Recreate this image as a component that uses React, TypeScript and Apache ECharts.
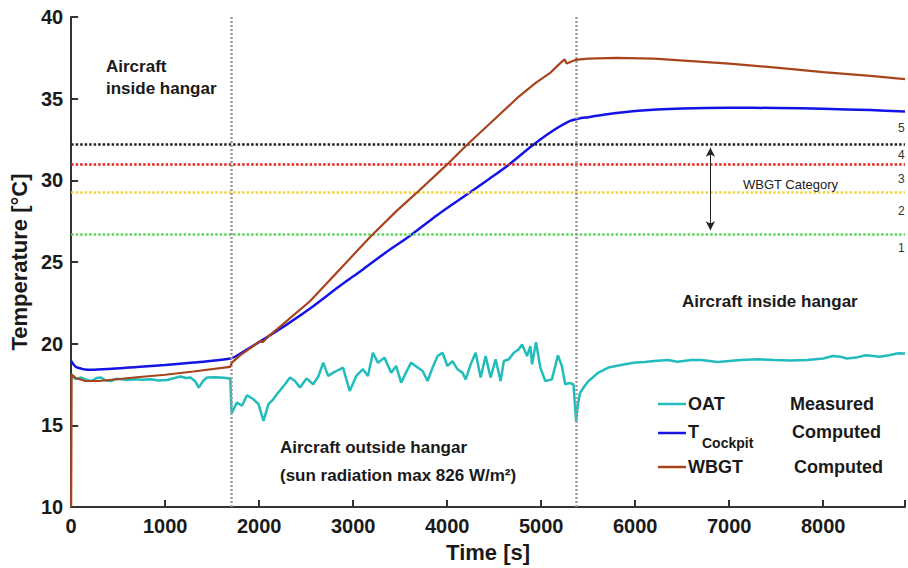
import React, { useEffect, useRef } from "react";
import * as echarts from "echarts";

// ---- Data ----
const oatTime = [0, 50, 106, 160, 212, 270, 317, 370, 423, 480, 529, 600, 670, 760, 847, 930, 1023, 1100, 1164, 1220, 1270, 1320, 1358, 1400, 1446, 1520, 1587, 1650, 1693, 1705, 1711, 1764, 1817, 1870, 1940, 1993, 2046, 2099, 2150, 2187, 2230, 2275, 2328, 2381, 2434, 2504, 2575, 2630, 2681, 2734, 2780, 2822, 2892, 2963, 3033, 3104, 3157, 3210, 3263, 3333, 3404, 3457, 3510, 3562, 3616, 3686, 3739, 3792, 3845, 3898, 3950, 4003, 4056, 4109, 4162, 4197, 4250, 4303, 4356, 4409, 4462, 4515, 4568, 4603, 4656, 4709, 4762, 4797, 4850, 4885, 4903, 4945, 4991, 5044, 5114, 5178, 5220, 5255, 5300, 5343, 5372, 5390, 5414, 5460, 5502, 5600, 5714, 5890, 6000, 6102, 6200, 6349, 6450, 6596, 6700, 6878, 7000, 7125, 7300, 7478, 7650, 7830, 8000, 8100, 8183, 8250, 8350, 8450, 8536, 8600, 8700, 8800, 8870];
const oatTemp = [18.0, 17.85, 17.93, 17.8, 17.72, 17.9, 17.93, 17.75, 17.72, 17.85, 17.82, 17.78, 17.82, 17.8, 17.82, 17.75, 17.78, 17.9, 17.99, 17.9, 17.93, 17.7, 17.31, 17.7, 17.93, 17.95, 17.93, 17.9, 17.86, 15.9, 15.79, 16.4, 16.2, 16.85, 16.6, 16.3, 15.28, 16.3, 16.6, 16.9, 17.2, 17.52, 17.93, 17.72, 17.32, 17.87, 17.52, 18.0, 18.84, 18.03, 18.2, 18.33, 18.54, 17.11, 18.03, 18.44, 18.03, 19.45, 18.84, 19.15, 18.23, 18.64, 17.62, 18.23, 18.84, 18.54, 18.33, 17.72, 18.54, 19.25, 19.45, 18.64, 18.94, 18.44, 18.23, 17.82, 18.74, 19.45, 17.93, 19.25, 17.93, 19.05, 17.72, 18.94, 19.05, 19.45, 19.66, 19.96, 19.25, 19.86, 18.74, 20.1, 18.54, 17.72, 17.82, 19.29, 18.64, 17.52, 17.6, 17.52, 15.28, 16.3, 17.0, 17.4, 17.7, 18.2, 18.54, 18.74, 18.85, 18.88, 18.95, 19.0, 18.9, 19.0, 19.0, 18.88, 18.95, 19.0, 19.05, 19.0, 18.98, 19.0, 19.1, 19.25, 19.2, 19.1, 19.15, 19.3, 19.25, 19.2, 19.3, 19.42, 19.4];

const cockpitTime = [0, 30, 60, 106, 150, 212, 400, 700, 1000, 1300, 1693, 1800, 2046, 2300, 2575, 2850, 3104, 3350, 3598, 3900, 4233, 4450, 4656, 4903, 5100, 5291, 5400, 5503, 5700, 6000, 6500, 7000, 7500, 8000, 8500, 8870];
const cockpitTemp = [18.94, 18.7, 18.55, 18.48, 18.42, 18.4, 18.45, 18.58, 18.7, 18.85, 19.09, 19.4, 20.27, 21.2, 22.3, 23.5, 24.55, 25.6, 26.58, 27.9, 29.23, 30.1, 30.96, 32.12, 32.95, 33.6, 33.78, 33.87, 34.05, 34.25, 34.4, 34.45, 34.43, 34.38, 34.3, 34.22];

const wbgtTime = [0, 5, 50, 150, 300, 700, 1000, 1300, 1690, 1710, 1800, 2010, 2040, 2100, 2540, 2857, 3175, 3457, 3668, 3986, 4198, 4317, 4515, 4762, 4938, 5100, 5220, 5250, 5270, 5362, 5500, 5800, 6200, 6600, 7000, 7500, 8000, 8500, 8870];
const wbgtTemp = [10.0, 18.13, 17.9, 17.72, 17.72, 17.95, 18.1, 18.3, 18.58, 18.84, 19.3, 20.16, 20.1, 20.45, 22.6, 24.55, 26.5, 28.1, 29.2, 30.9, 32.1, 32.75, 33.8, 35.13, 35.95, 36.6, 37.27, 37.4, 37.15, 37.37, 37.45, 37.5, 37.45, 37.3, 37.15, 36.9, 36.62, 36.4, 36.2];

const categoryThresholds = [26.7, 29.3, 31.0, 32.2];
const categoryColors = ["#5cd65c", "#f2d43a", "#e8231e", "#222222"];
const categoryLabels = ["5", "4", "3", "2", "1"];
const phaseBoundaries = [1700, 5370];
const xTicks = { min: 0, max: 8870, interval: 1000 };
const yTicks = { min: 10, max: 40, interval: 5 };

const zip = (a: number[], b: number[]) => a.map((t, i) => [t, b[i]]);

const FONT = "Arial, 'Liberation Sans', sans-serif";

export default function App() {
  const ref = useRef<HTMLDivElement>(null);
  useEffect(() => {
    if (!ref.current) return;
    const chart = echarts.init(ref.current, undefined, { renderer: "svg" });
    const bold = (size: number) => ({ fontFamily: FONT, fontWeight: "bold" as const, fontSize: size, fill: "#1a1a1a" });
    const txt = (text: string, x: number, y: number, size = 17, extra: any = {}) => ({
      type: "text",
      x,
      y,
      style: { text, ...bold(size), verticalAlign: "middle", ...extra },
      z: 100,
    });
    const legLine = (y: number, color: string) => ({
      type: "line",
      shape: { x1: 658, y1: y, x2: 686, y2: y },
      style: { stroke: color, lineWidth: 2.5 },
      z: 100,
    });
    chart.setOption({
      animation: false,
      backgroundColor: "#ffffff",
      grid: { left: 70, top: 17, width: 838, height: 492, containLabel: false },
      xAxis: {
        type: "value",
        min: xTicks.min,
        max: xTicks.max,
        interval: xTicks.interval,
        name: "Time [s]",
        nameLocation: "middle",
        nameGap: 33,
        nameTextStyle: { fontFamily: FONT, fontWeight: "bold", fontSize: 22, color: "#1a1a1a" },
        axisLine: { lineStyle: { color: "#333", width: 2 } },
        axisTick: { inside: true, length: 7, lineStyle: { color: "#333", width: 2 } },
        axisLabel: {
          fontFamily: FONT,
          fontWeight: "bold",
          fontSize: 20,
          color: "#1a1a1a",
          margin: 9,
          formatter: (v: number) => (v % 1000 === 0 ? String(v) : ""),
        },
        splitLine: { show: false },
      },
      yAxis: {
        type: "value",
        min: yTicks.min,
        max: yTicks.max,
        interval: yTicks.interval,
        name: "Temperature [°C]",
        nameLocation: "middle",
        nameGap: 36,
        nameTextStyle: { fontFamily: FONT, fontWeight: "bold", fontSize: 22, color: "#1a1a1a" },
        axisLine: { lineStyle: { color: "#333", width: 2 } },
        axisTick: { inside: true, length: 7, lineStyle: { color: "#333", width: 2 } },
        axisLabel: { fontFamily: FONT, fontWeight: "bold", fontSize: 20, color: "#1a1a1a", margin: 8 },
        splitLine: { show: false },
      },
      series: [
        {
          name: "guides",
          type: "line",
          data: [],
          silent: true,
          markLine: {
            silent: true,
            symbol: "none",
            label: { show: false },
            data: [
              ...categoryThresholds.map((v, i) => ({
                yAxis: v,
                lineStyle: { color: categoryColors[i], type: [2.5, 2], width: 2.5 },
              })),
              ...phaseBoundaries.map((v) => ({
                xAxis: v,
                lineStyle: { color: "#9a9a9a", type: [2, 2], width: 2.5 },
              })),
            ],
          },
        },
        {
          name: "arrow",
          type: "line",
          data: [],
          silent: true,
          markLine: {
            silent: true,
            symbol: ["arrow", "arrow"],
            symbolSize: [7, 9],
            label: { show: false },
            lineStyle: { color: "#222", type: "solid", width: 1 },
            data: [[{ coord: [6800, 32.0] }, { coord: [6800, 26.95] }]],
          },
        },
        {
          name: "OAT",
          type: "line",
          data: zip(oatTime, oatTemp),
          showSymbol: false,
          lineStyle: { color: "#22bcbc", width: 2.5 },
          z: 3,
        },
        {
          name: "TCockpit",
          type: "line",
          data: zip(cockpitTime, cockpitTemp),
          showSymbol: false,
          smooth: 0.3,
          lineStyle: { color: "#1414e6", width: 2.5 },
          z: 4,
        },
        {
          name: "WBGT",
          type: "line",
          data: zip(wbgtTime, wbgtTemp),
          showSymbol: false,
          lineStyle: { color: "#a8441c", width: 2.2 },
          z: 5,
        },
      ],
      graphic: [
        txt("Aircraft", 106, 66),
        txt("inside hangar", 106, 88),
        txt("Aircraft inside hangar", 682, 301),
        txt("Aircraft outside hangar", 280, 447),
        txt("(sun radiation max 826 W/m²)", 280, 475),
        {
          type: "text",
          x: 743,
          y: 184,
          style: { text: "WBGT Category", fontFamily: FONT, fontSize: 13, fill: "#222", verticalAlign: "middle" },
          z: 100,
        },
        ...categoryLabels.map((s, i) => ({
          type: "text",
          x: 898,
          y: [128, 155, 179, 211, 248][i],
          style: { text: s, fontFamily: FONT, fontSize: 12, fill: "#333", verticalAlign: "middle" },
          z: 100,
        })),
        legLine(404, "#22bcbc"),
        legLine(433, "#1414e6"),
        legLine(467, "#a8441c"),
        txt("OAT", 688, 404, 18),
        txt("Measured", 790, 404, 18),
        txt("T", 688, 432, 18),
        txt("Cockpit", 702, 443, 14),
        txt("Computed", 792, 432, 18),
        txt("WBGT", 688, 467, 18),
        txt("Computed", 794, 467, 18),
      ],
    });
    return () => chart.dispose();
  }, []);
  return (
    <div
      ref={ref}
      style={{ position: "fixed", left: 0, top: 0, width: 908, height: 568, background: "#fff" }}
    />
  );
}
